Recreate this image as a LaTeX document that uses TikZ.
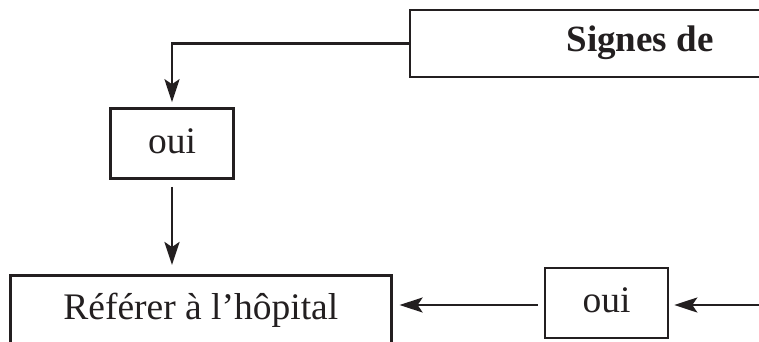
\documentclass[tikz,border=0pt]{standalone}
\usepackage{fontspec}
\setmainfont{Liberation Serif}
\usetikzlibrary{arrows.meta}
\definecolor{ink}{HTML}{231F20}
\tikzset{
  boxnode/.style={draw=ink, line width=2.6pt, rectangle, inner sep=0pt, text=ink,
    font=\fontsize{37.5}{42}\selectfont},
  ouinode/.style={boxnode, minimum width=123pt, minimum height=70pt,
    text height=25pt, text depth=6pt},
  arr/.style={draw=ink, line width=2.6pt,
    -{Stealth[length=23pt, width=15pt, inset=5pt]}}
}
\begin{document}
\begin{tikzpicture}[x=1pt, y=-1pt]
  \path[use as bounding box, clip] (0,0) rectangle (759,342);
  \fill[white] (0,0) rectangle (759,342);

  % top box, running off the right edge
  \node[boxnode, minimum width=460pt, minimum height=67pt,
        text height=25pt, text depth=8pt, font=\fontsize{37}{42}\selectfont\bfseries]
        (sig) at (640,43.5) {Signes de};

  % left branch
  \node[ouinode] (oui1) at (172,143.5) {oui};

  % referral box, running off the bottom edge
  \node[boxnode, anchor=north west, minimum width=381pt,
        text height=44pt, text depth=60pt] (ref) at (9,274) {Référer à l’hôpital};

  % right branch
  \node[ouinode] (oui2) at (606.5,303) {oui};
  \coordinate (inR) at (780,305);

  % connectors
  \draw[arr, shorten >=5pt] (sig.west) -| (oui1.north);
  \draw[arr, shorten <=7pt, shorten >=9pt] (oui1.south) -- (oui1.south |- ref.north);
  \draw[arr, shorten <=6pt, shorten >=7pt] ([yshift=-2pt]oui2.west) -- ([yshift=-2pt]oui2.west -| ref.east);
  \draw[arr, shorten >=5pt] (inR) -- (inR -| oui2.east);
\end{tikzpicture}
\end{document}
